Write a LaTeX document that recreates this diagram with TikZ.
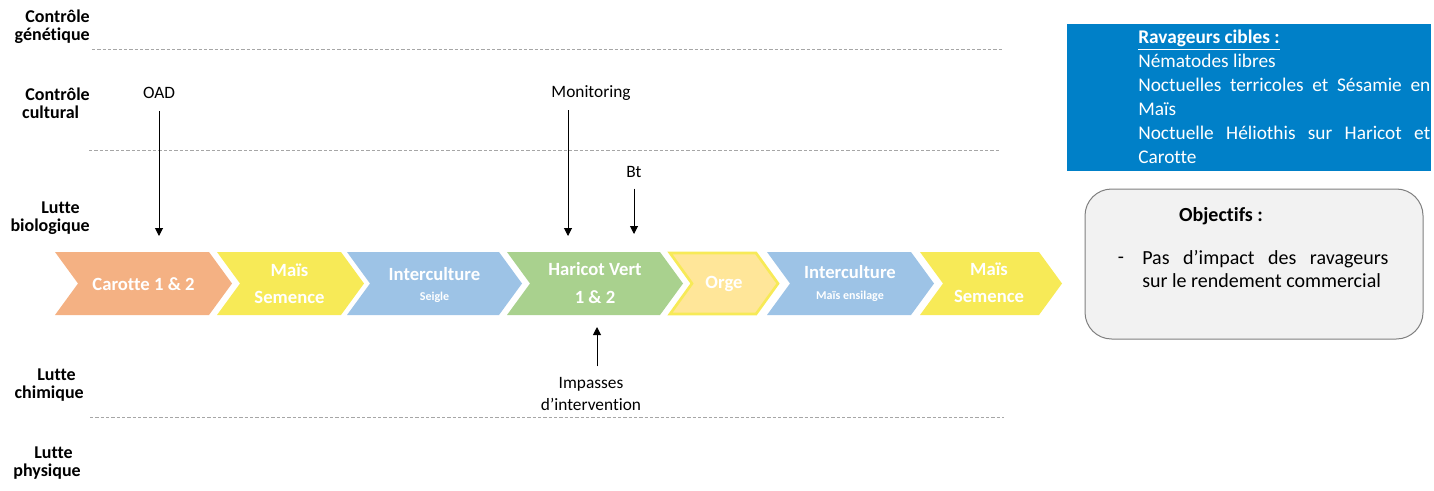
\documentclass[tikz,border=0pt]{standalone}
\usepackage{fontspec}
\setmainfont{Carlito}[Ligatures=NoCommon]
\usetikzlibrary{arrows.meta,positioning}

\definecolor{carot}{HTML}{F4B183}
\definecolor{mais}{HTML}{F7EA57}
\definecolor{inter}{HTML}{9DC3E6}
\definecolor{haricot}{HTML}{A9D18E}
\definecolor{orge}{HTML}{FFE699}
\definecolor{ravblue}{HTML}{0080C8}
\definecolor{objfill}{HTML}{F2F2F2}
\definecolor{objline}{HTML}{7F7F7F}
\definecolor{sepgray}{HTML}{A6A6A6}

\begin{document}
\begin{tikzpicture}[x=0.75pt,y=-0.75pt,
    lvl/.style={font=\bfseries\fontsize{13.5}{13.5}\selectfont,align=right,inner sep=0pt,anchor=east},
    tool/.style={font=\fontsize{13}{16.5}\selectfont,inner sep=0pt},
    crop/.style={text=white,font=\bfseries\fontsize{14}{20.5}\selectfont,align=center,inner sep=0pt},
    sub/.style={text=white,font=\bfseries\fontsize{9}{9}\selectfont,inner sep=0pt},
    sepline/.style={sepgray,line width=0.75pt,dash pattern=on 2.5pt off 1.5pt},
    push/.style={line width=0.75pt,-{Triangle[length=6pt,width=6pt]}}]

    \useasboundingbox (0,0) rectangle (1434,490);

    % Separators between the levels
    \draw[sepline] (92,49) -- (1004,49);
    \draw[sepline] (89,150) -- (1001,150);
    \draw[sepline] (90,417) -- (1004,417);

    % Levels of control
    \node[lvl] (genet) at (90,27) {Contrôle\\génétique};
    \node[lvl] (cultur) at (90,103) {Contrôle\\cultural\hspace*{8pt}};
    \node[lvl] (biolo) at (90,218) {Lutte\hspace*{7.5pt}\\biologique};
    \node[lvl] (chimi) at (84,385) {Lutte\hspace*{6pt}\\chimique};
    \node[lvl] (physi) at (81,463) {Lutte\hspace*{6pt}\\physique};

    % Rotation as chevrons
    \foreach \l/\r/\c in {55/209/carot,217/341/mais,347/499/inter,507/660/haricot,767/911/inter,920/1039/mais}
        \fill[\c] (\l,252) -- (\r,252) -- ++(23,31.5) -- (\r,315) -- (\l,315) -- ++(23,-31.5) -- cycle;
    \draw[mais,line width=2pt,fill=orge] (670,253) -- (756,253) -- ++(22,30.5) -- (756,314) -- (670,314) -- ++(22,-30.5) -- cycle;

    % Crops
    \node[crop] (carotte) at (143.5,284) {Carotte 1 \& 2};
    \node[crop] (mais1) at (289.5,283.5) {Maïs\\Semence};
    \node[crop] (inter1) at (434.5,274) {Interculture};
    \node[sub] (seigle) at (434.5,297) {Seigle};
    \node[crop] (haricotv) at (595,283) {Haricot Vert\\1 \& 2};
    \node[crop] (orgeb) at (724,284) {Orge};
    \node[crop] (inter2) at (850,272) {Interculture};
    \node[sub] (ensil) at (850,296) {Maïs ensilage};
    \node[crop] (mais2) at (989,283) {Maïs\\Semence};

    % Levers and arrows
    \node[tool] (oad) at (159,93) {OAD};
    \node[tool] (monit) at (591,93) {Monitoring};
    \node[tool] (bt) at (634,172) {Bt};
    \node[tool,align=center] (impasse) at (591,394) {Impasses\\d’intervention};
    \coordinate (oadtip) at (159,236);
    \coordinate (monittip) at (568,236);
    \coordinate (bttip) at (634,234);
    \coordinate (imptip) at (597,327);
    \draw[push,shorten <=9pt] (oad.south) -- (oadtip);
    \draw[push,shorten <=7pt] (monit.south -| monittip) -- (monittip);
    \draw[push,shorten <=8pt] (bt.south) -- (bttip);
    \draw[push,shorten <=8pt] (impasse.north -| imptip) -- (imptip);

    % Target pests
    \node[fill=ravblue,anchor=north west,minimum width=273pt,minimum height=110.25pt,inner sep=0pt] (ravbox) at (1067,24) {};
    \node[text=white,anchor=north west,text width=219pt,align=justify,inner sep=0pt,
          font=\fontsize{14.5}{18}\selectfont] (ravtext) at (1138,30)
        {{\bfseries\underline{Ravageurs cibles :}}\\
         Nématodes libres\\
         Noctuelles terricoles et Sésamie en\linebreak Maïs\\
         Noctuelle Héliothis sur Haricot et\linebreak Carotte};

    % Objectives
    \node[draw=objline,fill=objfill,line width=0.75pt,rounded corners=20pt,
          minimum width=253.5pt,minimum height=112.5pt,inner sep=0pt] (objbox) at (1254,264) {};
    \node[font=\bfseries\fontsize{15}{18}\selectfont,inner sep=0pt] (objtitle) at (1221,216) {Objectifs :};
    \node[font=\fontsize{15}{18}\selectfont,inner sep=0pt] (objdash) at (1121,260) {-};
    \node[anchor=north west,text width=184.5pt,align=justify,inner sep=0pt,
          font=\fontsize{15}{17.5}\selectfont] (objtext) at (1142,250)
        {Pas d’impact des ravageurs\linebreak sur le rendement commercial};

\end{tikzpicture}
\end{document}
